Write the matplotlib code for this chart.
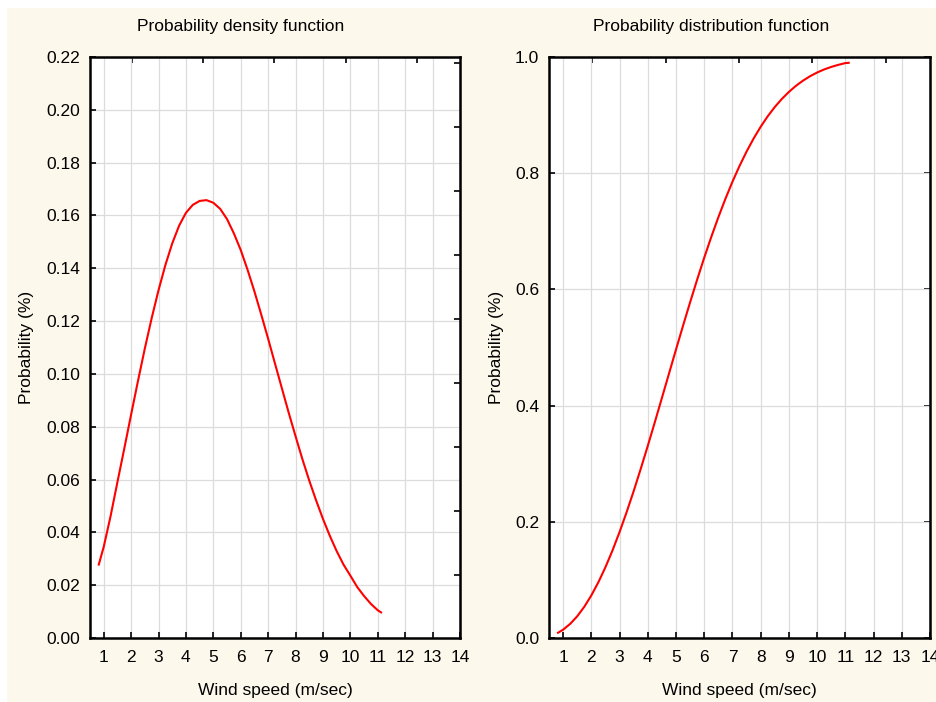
import matplotlib
matplotlib.use('Agg')
import matplotlib.pyplot as plt
from matplotlib.patches import Rectangle

# --- Data ---
wind_speed = [0.82, 1.00, 1.25, 1.50, 1.75, 2.00, 2.25, 2.50, 2.75, 3.00, 3.25,
              3.50, 3.75, 4.00, 4.25, 4.50, 4.75, 5.00, 5.25, 5.50, 5.75, 6.00,
              6.25, 6.50, 6.75, 7.00, 7.25, 7.50, 7.75, 8.00, 8.25, 8.50, 8.75,
              9.00, 9.25, 9.50, 9.75, 10.00, 10.25, 10.50, 10.75, 11.00, 11.12]
pdf_values = [0.0278, 0.0345, 0.0461, 0.0590, 0.0717, 0.0846, 0.0973, 0.1096,
              0.1211, 0.1317, 0.1412, 0.1494, 0.1561, 0.1610, 0.1640, 0.1655,
              0.1658, 0.1648, 0.1625, 0.1586, 0.1532, 0.1469, 0.1394, 0.1312,
              0.1224, 0.1133, 0.1039, 0.0946, 0.0853, 0.0764, 0.0677, 0.0596,
              0.0521, 0.0451, 0.0387, 0.0329, 0.0278, 0.0236, 0.0193, 0.0159,
              0.0129, 0.0105, 0.0097]
cdf_values = [0.0090, 0.0143, 0.0243, 0.0374, 0.0537, 0.0733, 0.0960, 0.1219,
              0.1507, 0.1824, 0.2165, 0.2528, 0.2911, 0.3307, 0.3715, 0.4131,
              0.4548, 0.4965, 0.5376, 0.5778, 0.6169, 0.6546, 0.6903, 0.7241,
              0.7558, 0.7853, 0.8124, 0.8372, 0.8597, 0.8799, 0.8980, 0.9139,
              0.9278, 0.9399, 0.9504, 0.9593, 0.9669, 0.9733, 0.9786, 0.9829,
              0.9865, 0.9895, 0.9900]

x_ticks = list(range(1, 15))
pdf_yticks = [0.00, 0.02, 0.04, 0.06, 0.08, 0.10, 0.12, 0.14, 0.16, 0.18, 0.20, 0.22]
cdf_yticks = [0.0, 0.2, 0.4, 0.6, 0.8, 1.0]
# extra tick marks on the frame (secondary scales in the original software)
top_ticks = [2.03, 4.63, 7.23, 9.83, 12.43]
pdf_right_ticks = [0.0239, 0.0481, 0.0724, 0.0966, 0.1208, 0.1450, 0.1693, 0.1935, 0.2177]

titles = ['Probability density function', 'Probability distribution function']
x_label = 'Wind speed (m/sec)'
y_label = 'Probability (%)'

# --- Style ---
plt.rcParams['font.family'] = ['Liberation Sans', 'DejaVu Sans']
FS = 12.5
BG = '#fdf8ec'
GRID = '#dcdcdc'

fig = plt.figure(figsize=(9.37, 7.02), dpi=100, facecolor='white')
fig.patches.append(Rectangle((7 / 937, 0), 1, 1 - 8 / 702, transform=fig.transFigure,
                             facecolor=BG, edgecolor='none', zorder=-10))

ax1 = fig.add_axes([90 / 937, 1 - 638 / 702, 370 / 937, 581 / 702])
ax2 = fig.add_axes([549 / 937, 1 - 638 / 702, 381 / 937, 581 / 702])


def style_axes(ax, yticks, ylim, yfmt):
    ax.set_facecolor('white')
    ax.set_xlim(0.5, 14)
    ax.set_ylim(*ylim)
    ax.set_xticks(x_ticks)
    ax.set_yticks(yticks)
    ax.set_yticklabels([yfmt.format(v) for v in yticks])
    ax.grid(True, color=GRID, linewidth=0.9)
    ax.set_axisbelow(True)
    for sp in ax.spines.values():
        sp.set_linewidth(1.8)
        sp.set_color('black')
    ax.tick_params(axis='both', direction='in', length=4, width=1.2,
                   labelsize=FS, colors='black')
    ax.tick_params(axis='x', pad=9)
    ax.tick_params(axis='y', pad=7)
    # small tick marks on the top frame
    top = ax.secondary_xaxis('top')
    top.set_xticks(top_ticks)
    top.tick_params(direction='in', length=4, width=1.2, labeltop=False)
    top.spines['top'].set_visible(False)


style_axes(ax1, pdf_yticks, (0, 0.22), '{:.2f}')
style_axes(ax2, cdf_yticks, (0, 1.0), '{:.1f}')

ax1.plot(wind_speed, pdf_values, color='#ff0000', linewidth=1.5)
ax2.plot(wind_speed, cdf_values, color='#ff0000', linewidth=1.5)

# right-hand frame ticks
r1 = ax1.secondary_yaxis('right')
r1.set_yticks(pdf_right_ticks)
r1.tick_params(direction='in', length=4, width=1.2, labelright=False)
r2 = ax2.secondary_yaxis('right')
r2.set_yticks(cdf_yticks)
r2.tick_params(direction='in', length=4, width=1.2, labelright=False)

# titles and axis labels
fig.text(241 / 937, 1 - 27 / 702, titles[0], fontsize=FS, ha='center', va='center')
fig.text(711 / 937, 1 - 27 / 702, titles[1], fontsize=FS, ha='center', va='center')
fig.text(275 / 937, 1 - 690 / 702, x_label, fontsize=FS, ha='center', va='center')
fig.text(739.5 / 937, 1 - 690 / 702, x_label, fontsize=FS, ha='center', va='center')
fig.text(27 / 937, 1 - 347 / 702, y_label, fontsize=FS, ha='center', va='center', rotation=90)
fig.text(497 / 937, 1 - 347 / 702, y_label, fontsize=FS, ha='center', va='center', rotation=90)

fig.savefig('out.png', dpi=100, facecolor=fig.get_facecolor())
